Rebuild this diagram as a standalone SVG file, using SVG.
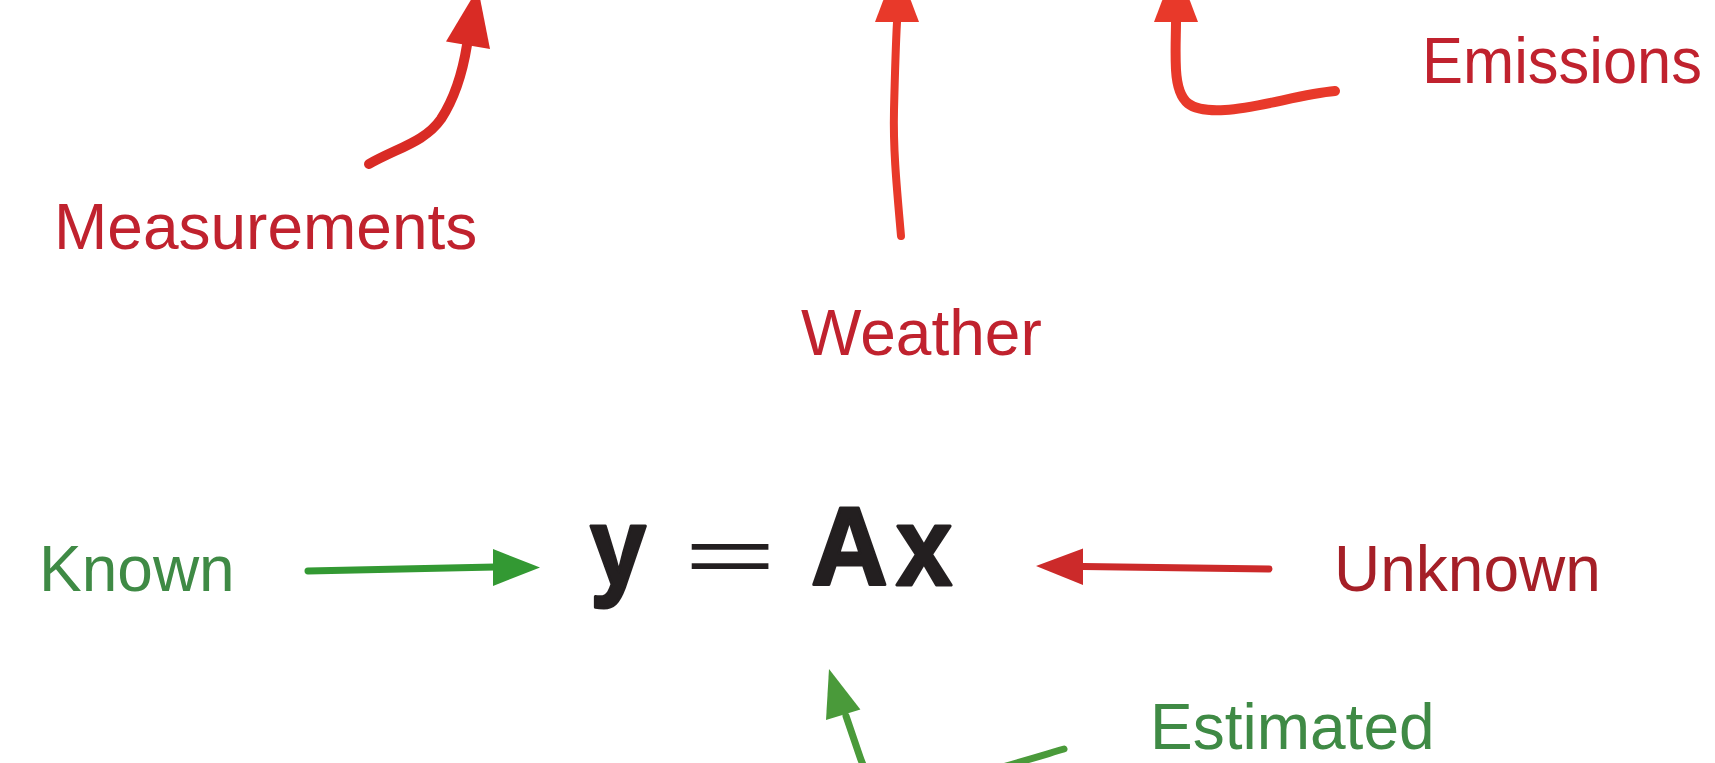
<svg xmlns="http://www.w3.org/2000/svg" width="1715" height="763" viewBox="0 0 1715 763">
<style>
.lbl{font-family:"Liberation Sans",Arial,sans-serif;font-size:64px}
.red{fill:#c0222e}
.dred{fill:#a51f27}
.grn{fill:#3f8a45}
.eq{font-family:"Liberation Sans",Arial,sans-serif;font-weight:bold;font-size:112px;fill:#231f20;stroke:#231f20;stroke-width:3;stroke-linejoin:round}
.c{fill:none;stroke-linecap:round;stroke-linejoin:round}
</style>
<rect width="1715" height="763" fill="#ffffff"/>
<g id="connectors">
  <path class="c" d="M369,164 C397,148 425,142 441,119 C456,96 463,70 467,45" stroke="#d92b25" stroke-width="10"/>
  <polygon points="446,41.6 490,49 478,-12" fill="#d92b25"/>
  <path class="c" d="M901,236 C897,190 893,150 894,110 C895,70 896,40 897,22" stroke="#e8392a" stroke-width="8"/>
  <polygon points="875,22 919,22 897,-36" fill="#e8392a"/>
  <path class="c" d="M1335,91 C1300,94 1260,108 1225,110 C1190,112 1178,104 1176,70 C1175,50 1176,35 1176,22" stroke="#e8392a" stroke-width="10"/>
  <polygon points="1154,22 1198,22 1176,-36" fill="#e8392a"/>
  <path class="c" d="M308,571 L495,567" stroke="#339933" stroke-width="7"/>
  <polygon points="493,549 493,586 540,567.5" fill="#339933"/>
  <path class="c" d="M1269,569 L1083,566.5" stroke="#cc2a2a" stroke-width="7"/>
  <polygon points="1083,548.5 1083,585 1036,566" fill="#cc2a2a"/>
  <path class="c" d="M1064,749 C1020,762 960,780 920,790 C880,800 868,780 860,757 C855,742 850,728 846,716" stroke="#4a9a3a" stroke-width="7"/>
  <polygon points="826,720 860.4,709.5 829,669" fill="#4a9a3a"/>
</g>
<g id="measurements"><text class="lbl red" x="54" y="249">Measurements</text></g>
<g id="weather"><text class="lbl red" x="801" y="355">Weather</text></g>
<g id="emissions"><text class="lbl red" x="1422" y="83" textLength="280" lengthAdjust="spacingAndGlyphs">Emissions</text></g>
<g id="known"><text class="lbl grn" x="39" y="591">Known</text></g>
<g id="unknown"><text class="lbl dred" x="1334" y="591">Unknown</text></g>
<g id="estimated"><text class="lbl grn" x="1150" y="749">Estimated</text></g>
<g id="equation">
  <g transform="translate(590,585) scale(0.9,1)"><text class="eq" x="0" y="0">y</text></g>
  <g transform="translate(684,581.7) scale(2.05,1)"><text x="0" y="0" font-family="Liberation Sans, Arial, sans-serif" font-size="77" fill="#231f20">=</text></g>
  <g transform="translate(811,585) scale(0.95,1)"><text class="eq" x="0" y="0">A</text></g>
  <g transform="translate(896,585) scale(0.9,1)"><text class="eq" x="0" y="0">x</text></g>
</g>
</svg>
